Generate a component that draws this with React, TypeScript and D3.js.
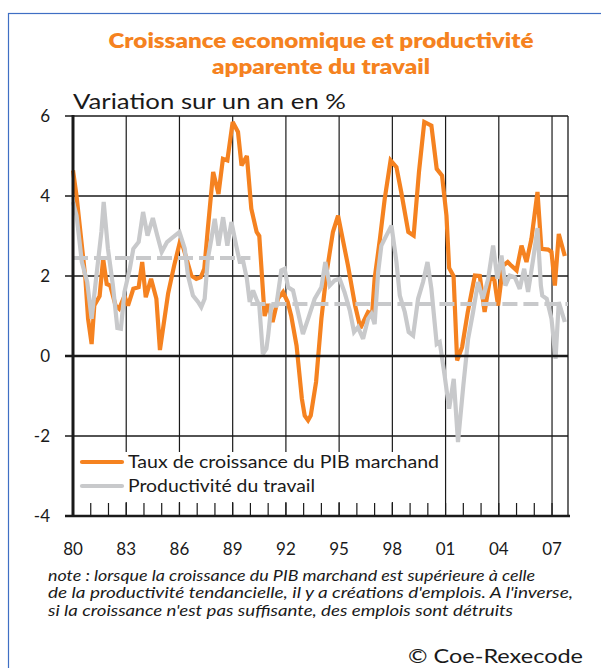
import React from 'react';
import * as d3 from 'd3';

const gdpYears = [1980.0,1980.2,1980.5,1980.7,1980.85,1981.05,1981.2,1981.5,1981.7,1981.9,1982.1,1982.4,1982.6,1982.9,1983.1,1983.4,1983.7,1983.9,1984.1,1984.4,1984.7,1984.9,
  1985.36,1985.7,1986.07,1986.4,1986.67,1986.95,1987.2,1987.4,1987.6,1987.9,1988.2,1988.45,1988.7,1989.0,1989.3,1989.5,1989.8,1990.05,1990.35,1990.5,1990.8,
  1991.0,1991.25,1991.55,1991.84,1992.1,1992.3,1992.6,1992.9,1993.06,1993.25,1993.4,1993.7,1994.0,1994.3,1994.65,1994.94,1995.2,1995.5,1995.9,1996.2,
  1996.63,1996.86,1997.0,1997.3,1997.57,1997.9,1998.23,1998.5,1998.9,1999.2,1999.5,1999.8,2000.2,2000.5,2000.8,2001.05,2001.2,2001.45,2001.65,2001.93,2002.25,
  2002.65,2002.93,2003.2,2003.5,2003.74,2003.96,2004.24,2004.5,2004.7,2005.0,2005.28,2005.56,2005.84,2006.18,2006.4,2006.78,2006.97,2007.16,2007.38,2007.72];
const gdpValues = [4.64,4.0,2.76,1.93,0.93,0.3,1.26,1.5,2.43,1.8,1.76,1.26,1.18,1.5,1.26,1.68,1.72,2.35,1.47,1.93,1.43,0.15,
  1.56,2.26,2.93,2.43,2.01,1.93,1.97,2.18,3.18,4.6,4.05,4.93,4.89,5.85,5.6,4.76,5.0,3.68,3.1,3.0,1.0,
  1.3,0.85,1.43,1.6,1.35,1.0,0.26,-1.07,-1.49,-1.61,-1.49,-0.65,0.93,2.1,3.1,3.51,2.93,2.26,1.26,0.7,
  1.1,1.05,1.93,2.93,3.93,4.89,4.72,4.1,3.1,3.01,4.6,5.85,5.76,4.68,4.51,3.51,2.2,2.0,-0.11,0.22,1.1,
  2.01,2.0,1.1,1.93,1.93,1.26,2.26,2.35,2.26,2.14,2.76,2.35,2.93,4.1,2.68,2.66,2.6,1.76,3.05,2.5];

const prodYears = [1980.0,1980.2,1980.5,1980.8,1981.05,1981.3,1981.6,1981.73,1981.97,1982.25,1982.5,1982.7,1982.9,1983.2,1983.4,1983.7,1983.95,1984.2,1984.5,1984.75,1985.0,
  1985.3,1985.64,1986.0,1986.3,1986.48,1986.76,1987.05,1987.23,1987.42,1987.6,1987.8,1987.99,1988.2,1988.46,1988.7,1988.93,1989.2,1989.4,1989.6,1989.8,1989.96,1990.15,1990.33,1990.5,1990.7,1990.9,
  1991.0,1991.18,1991.46,1991.74,1991.93,1992.12,1992.4,1992.68,1992.96,1993.25,1993.62,1994.0,1994.22,1994.47,1994.75,1995.03,1995.3,1995.6,1995.84,1996.06,1996.35,
  1996.63,1996.82,1997.0,1997.2,1997.38,1997.66,1997.95,1998.23,1998.42,1998.7,1998.92,1999.17,1999.45,1999.73,1999.98,2000.2,2000.5,2000.67,2000.95,2001.2,2001.46,2001.7,2002.0,
  2002.27,2002.55,2002.83,2003.1,2003.4,2003.68,2003.92,2004.15,2004.37,2004.62,2004.9,2005.18,2005.43,2005.65,2005.94,2006.18,2006.37,2006.45,2006.7,2006.97,2007.2,2007.38,2007.72];
const prodValues = [3.85,3.51,2.35,1.85,0.93,1.93,3.1,3.85,2.68,1.76,0.7,0.68,1.6,2.18,2.68,2.85,3.6,3.01,3.45,3.01,2.6,
  2.85,2.97,3.1,2.68,2.01,1.51,1.35,1.22,1.43,2.43,2.93,3.43,2.76,3.47,2.76,3.35,2.76,2.35,2.35,1.93,1.35,1.64,1.43,1.26,0.05,0.18,
  0.51,1.26,1.26,2.14,2.18,1.72,1.64,1.1,0.55,0.93,1.43,1.72,2.35,1.76,1.89,1.93,1.6,1.14,0.6,0.72,0.43,
  0.93,1.05,0.8,2.1,2.76,3.01,3.26,2.35,1.51,1.1,0.6,0.51,1.43,1.85,2.35,1.68,0.3,0.35,-0.5,-1.32,-0.57,-2.15,-0.74,
  0.43,1.1,1.85,1.43,1.93,2.76,1.93,2.51,1.76,2.01,1.97,1.68,2.18,1.6,2.43,3.2,1.76,1.51,1.43,0.93,-0.07,1.35,0.85];

const trendFrom = [1980, 1990];
const trendTo = [1990, 2007.9];
const trendValues = [2.45, 1.3];

const yTicks = [6, 4, 2, 0, -2, -4];
const yTickLabels = ['6', '4', '2', '0', '-2', '-4'];
const xMajor = [1980, 1983, 1986, 1989, 1992, 1995, 1998, 2001, 2004, 2007];
const xLabels = ['80', '83', '86', '89', '92', '95', '98', '01', '04', '07'];
const xMinor = d3.range(1980, 2008);

const titleLines = ['Croissance economique et productivité', 'apparente du travail'];
const subtitle = 'Variation sur un an en %';
const legendLabels = ['Taux de croissance du PIB marchand', 'Productivité du travail'];
const noteLines = [
  "note : lorsque la croissance du PIB marchand est supérieure à celle",
  "de la productivité tendancielle, il y a créations d'emplois. A l'inverse,",
  "si la croissance n'est pas suffisante, des emplois sont détruits",
];
const source = '© Coe-Rexecode';

const ORANGE = '#f58220';
const GREY = '#c8c9cb';
const DARK = '#1a1a1a';
const FONT = 'Lato, "Open Sans", sans-serif';

export default function App() {
  const x = d3.scaleLinear().domain([1980, 2007.9]).range([73, 568]);
  const y = d3.scaleLinear().domain([-4, 6]).range([516, 116]);
  const line = d3.line<[number, number]>().x(d => x(d[0])).y(d => y(d[1]));
  const gdp: [number, number][] = gdpYears.map((t, i) => [t, gdpValues[i]]);
  const prod: [number, number][] = prodYears.map((t, i) => [t, prodValues[i]]);
  const left = x(1980);
  const right = x(2007.9);

  return (
    <div style={{ position: 'absolute', left: 0, top: 0 }}>
      <svg width={601} height={668} style={{ display: 'block' }}>
        <rect x={0} y={0} width={601} height={668} fill="#fff" />
        <rect x={8.5} y={13.5} width={640} height={700} fill="none" stroke="#3f6fc4" strokeWidth={1.2} />

        {titleLines.map((t, i) => (
          <text key={t} x={321} y={48 + i * 26} textAnchor="middle" fontFamily={FONT} fontWeight={800}
            fontSize={21} fill={ORANGE} textLength={i === 0 ? 425 : 218} lengthAdjust="spacingAndGlyphs">{t}</text>
        ))}
        <text x={73} y={109} fontFamily={FONT} fontSize={22} fill={DARK} textLength={273} lengthAdjust="spacingAndGlyphs">{subtitle}</text>

        {/* vertical grid */}
        {xMajor.filter(v => v > 1980).map(v => (
          <line key={'vg' + v} x1={x(v)} x2={x(v)} y1={y(6)} y2={y(-4)} stroke={DARK} strokeWidth={1.2} />
        ))}
        {xMinor.map(v => (
          <line key={'mt' + v} x1={x(v)} x2={x(v)} y1={y(-4) - 13} y2={y(-4)} stroke={DARK} strokeWidth={1.2} />
        ))}
        {/* horizontal grid */}
        {yTicks.filter(v => v !== 0 && v !== -4).map(v => (
          <line key={'hg' + v} x1={65} x2={right} y1={y(v)} y2={y(v)} stroke={DARK} strokeWidth={1.3} />
        ))}
        <line x1={right} x2={right} y1={y(6)} y2={y(-4)} stroke={DARK} strokeWidth={1.3} />

        {/* series */}
        <path d={line(gdp) || ''} fill="none" stroke={ORANGE} strokeWidth={4.2} strokeLinejoin="miter" strokeMiterlimit={3} />
        <path d={line(prod) || ''} fill="none" stroke={GREY} strokeWidth={4.2} strokeLinejoin="miter" strokeMiterlimit={3} />
        {trendValues.map((v, i) => (
          <path key={'tr' + i} d={line([[trendFrom[i], v], [trendTo[i], v]]) || ''} fill="none" stroke={GREY}
            strokeWidth={4.2} strokeDasharray="15 6" />
        ))}

        {/* axes */}
        <line x1={65} x2={right} y1={y(0)} y2={y(0)} stroke={DARK} strokeWidth={2.6} />
        <line x1={65} x2={570} y1={y(-4)} y2={y(-4)} stroke={DARK} strokeWidth={2.6} />
        <line x1={left} x2={left} y1={y(6) - 1} y2={y(-4) + 1} stroke={DARK} strokeWidth={3} />

        {yTicks.map((v, i) => (
          <text key={'yl' + v} x={50} y={y(v) + 6} textAnchor="end" fontFamily={FONT} fontSize={17} fill={DARK}>{yTickLabels[i]}</text>
        ))}
        {xMajor.map((v, i) => (
          <text key={'xl' + v} x={x(v)} y={555} textAnchor="middle" fontFamily={FONT} fontSize={17} fill={DARK}>{xLabels[i]}</text>
        ))}

        {/* legend */}
        <rect x={left + 2} y={452} width={443 - left - 2} height={50} fill="#fff" />
        <line x1={82} x2={122} y1={462} y2={462} stroke={ORANGE} strokeWidth={4.2} strokeLinecap="round" />
        <line x1={82} x2={122} y1={486} y2={486} stroke={GREY} strokeWidth={4.2} strokeLinecap="round" />
        <text x={128} y={468} fontFamily={FONT} fontSize={18} fill={DARK} textLength={311} lengthAdjust="spacingAndGlyphs">{legendLabels[0]}</text>
        <text x={128} y={492} fontFamily={FONT} fontSize={18} fill={DARK} textLength={187} lengthAdjust="spacingAndGlyphs">{legendLabels[1]}</text>

        {noteLines.map((t, i) => (
          <text key={'n' + i} x={48} y={581 + i * 17.3} fontFamily={FONT} fontStyle="italic" fontSize={15} fill={DARK}
            textLength={[487, 525, 465][i]} lengthAdjust="spacingAndGlyphs">{t}</text>
        ))}
        <text x={408} y={663} fontFamily={FONT} fontSize={20} fill={DARK} textLength={175} lengthAdjust="spacingAndGlyphs">{source}</text>
      </svg>
    </div>
  );
}
